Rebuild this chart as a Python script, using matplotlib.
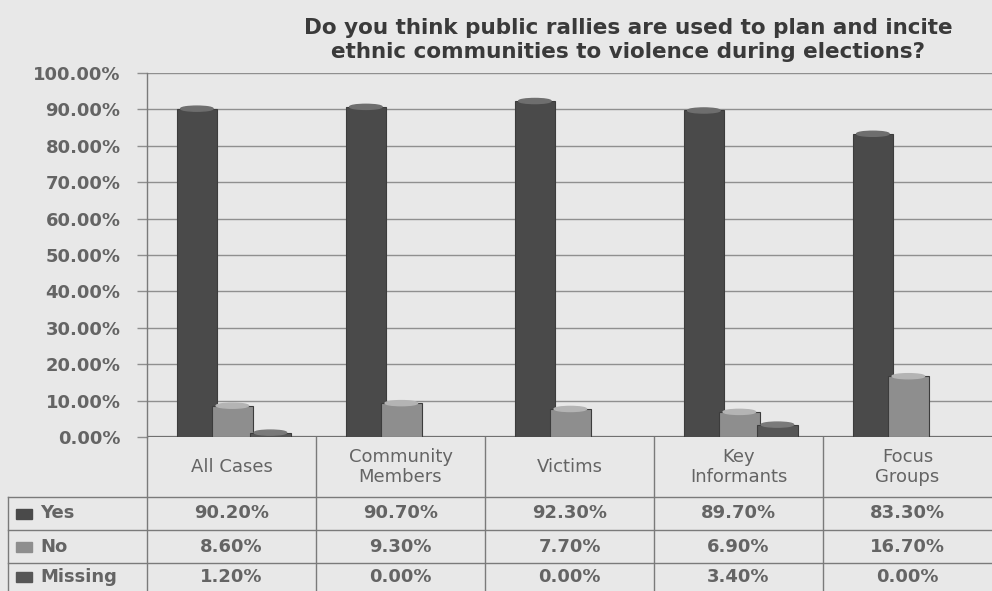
import numpy as np
import matplotlib
matplotlib.use("Agg")
import matplotlib.pyplot as plt
from matplotlib.patches import Ellipse, Rectangle
from matplotlib.transforms import blended_transform_factory

# survey responses per respondent group (percent)
groups = ["All Cases", "Community\nMembers", "Victims", "Key\nInformants", "Focus\nGroups"]
series = ["Yes", "No", "Missing"]
yes = [90.2, 90.7, 92.3, 89.7, 83.3]
no = [8.6, 9.3, 7.7, 6.9, 16.7]
missing = [1.2, 0.0, 0.0, 3.4, 0.0]
yticks = [0, 10, 20, 30, 40, 50, 60, 70, 80, 90, 100]

title = ("Do you think public rallies are used to plan and incite\n"
         "ethnic communities to violence during elections?")

W, H = 992, 591
bg = "#e8e8e8"
txt = "#646464"
line = "#8f8f8f"
fills = ["#4a4a4a", "#8e8e8e", "#565656"]
tops = ["#6e6e6e", "#b4b4b4", "#7a7a7a"]
offsets = [-0.205, 0.005, 0.23]
bw = 0.24

plt.rcParams['font.family'] = ['DejaVu Sans']

fig = plt.figure(figsize=(W / 100, H / 100), dpi=100, facecolor=bg)

def fx(x):
    return x / W

def fy(y):
    return 1 - y / H

ax = fig.add_axes([fx(147), fy(437), fx(992) - fx(147), fy(73) - fy(437)])
ax.set_facecolor("none")
ax.set_xlim(-0.5, len(groups) - 0.5)
ax.set_ylim(0, 100)

for v in yticks[1:]:
    ax.axhline(v, color=line, lw=1.0, zorder=0)
ax.axhline(0, color="#707070", lw=1.6, zorder=0)

x = np.arange(len(groups))
for k, vals in enumerate([yes, no, missing]):
    for i, v in enumerate(vals):
        if v <= 0:
            continue
        cx = x[i] + offsets[k]
        ax.bar(cx, v, width=bw, color=fills[k], edgecolor="#3c3c3c",
               linewidth=0.8, zorder=2 + k)
        ax.add_patch(Ellipse((cx, v), bw * 0.8, 1.4, color=tops[k],
                             zorder=3 + k))

ax.set_xticks([])
ax.set_yticks(yticks)
ax.set_yticklabels([f"{v:.2f}%" for v in yticks], fontsize=13,
                   fontweight="bold", color=txt)
ax.tick_params(axis="y", length=7, width=1.0, color=line, pad=12)
for s in ["top", "right", "bottom"]:
    ax.spines[s].set_visible(False)
ax.spines["left"].set_color("#7a7a7a")
ax.spines["left"].set_linewidth(1.0)

fig.text(fx(628), fy(40), title, ha="center", va="center", fontsize=15.5,
         fontweight="bold", color="#3a3a3a", linespacing=1.3)

# data table under the chart
tr = blended_transform_factory(ax.transData, fig.transFigure)
rows_y = [437, 497, 530, 563, 591]
edges = np.arange(len(groups) + 1) - 0.5
for e in edges[:-1]:
    fig.add_artist(plt.Line2D([e, e], [fy(437), fy(591)], transform=tr,
                              color="#7a7a7a", lw=1.0))
fig.add_artist(plt.Line2D([fx(8), fx(8)], [fy(497), fy(591)],
                          color="#7a7a7a", lw=1.0))
for yy in rows_y[1:4]:
    fig.add_artist(plt.Line2D([fx(8), 1], [fy(yy), fy(yy)],
                              color="#7a7a7a", lw=1.0))

for i, g in enumerate(groups):
    fig.text(x[i], fy(467), g, transform=tr, ha="center", va="center",
             fontsize=13, color=txt, linespacing=1.1)

for r, (name, vals) in enumerate(zip(series, [yes, no, missing])):
    yc = (rows_y[r + 1] + rows_y[r + 2]) / 2
    fig.add_artist(Rectangle((fx(16), fy(yc + 5)), fx(16), fy(yc - 5) - fy(yc + 5),
                             transform=fig.transFigure, color=fills[r]))
    fig.text(fx(40), fy(yc), name, ha="left", va="center", fontsize=13,
             fontweight="bold", color=txt)
    for i, v in enumerate(vals):
        fig.text(x[i], fy(yc), f"{v:.2f}%", transform=tr, ha="center",
                 va="center", fontsize=13, fontweight="bold", color=txt)

fig.savefig("out.png", dpi=100, facecolor=bg)
